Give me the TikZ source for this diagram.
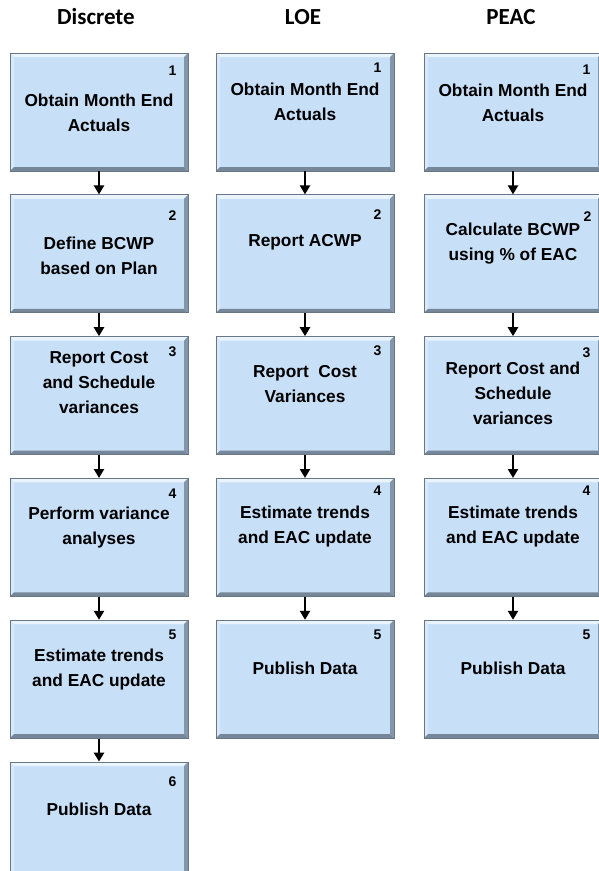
\documentclass[tikz,border=0pt]{standalone}
\usepackage{fontspec}
\setmainfont{Liberation Sans}
\newfontfamily\headfont{Carlito}
\usetikzlibrary{arrows.meta,positioning}

\definecolor{boxfill}{RGB}{199,224,248}
\definecolor{boxedge}{RGB}{104,118,134}
\definecolor{bevtop}{RGB}{234,244,253}
\definecolor{bevleft}{RGB}{216,233,250}
\definecolor{bevright}{RGB}{132,150,170}
\definecolor{bevbottom}{RGB}{118,135,154}

\begin{document}
\begin{tikzpicture}[
    x=1pt, y=-1pt,
    node distance=23pt,
    head/.style={font=\headfont\bfseries\fontsize{23}{26}\selectfont, inner sep=0pt},
    stepbox/.style={
      rectangle, draw=boxedge, line width=0.8pt, fill=boxfill,
      minimum width=178pt, minimum height=118pt, inner sep=0pt,
      path picture={
        \fill[bevtop] (path picture bounding box.north west) -- (path picture bounding box.north east)
          -- ([shift={(-4pt,-4pt)}]path picture bounding box.north east)
          -- ([shift={(4pt,-4pt)}]path picture bounding box.north west) -- cycle;
        \fill[bevleft] (path picture bounding box.north west) -- (path picture bounding box.south west)
          -- ([shift={(4pt,4pt)}]path picture bounding box.south west)
          -- ([shift={(4pt,-4pt)}]path picture bounding box.north west) -- cycle;
        \fill[bevright] (path picture bounding box.north east) -- (path picture bounding box.south east)
          -- ([shift={(-4pt,4pt)}]path picture bounding box.south east)
          -- ([shift={(-4pt,-4pt)}]path picture bounding box.north east) -- cycle;
        \fill[bevbottom] (path picture bounding box.south west) -- (path picture bounding box.south east)
          -- ([shift={(-4pt,4pt)}]path picture bounding box.south east)
          -- ([shift={(4pt,4pt)}]path picture bounding box.south west) -- cycle;
      }
    },
    steptext/.style={align=center, inner sep=0pt, text=black,
      font=\bfseries\fontsize{17.3}{25}\selectfont},
    stepnum/.style={inner sep=0pt, text=black, font=\bfseries\fontsize{14}{14}\selectfont},
    flow/.style={-{Triangle[width=10pt,length=9pt]}, line width=2.6pt, draw=black}
  ]
    \useasboundingbox (0,0) rectangle (598,871);

    % column headings
    \node[head] (hdisc) at (96,17) {Discrete};
    \node[head] (hloe) at (303,17) {LOE};
    \node[head] (hpeac) at (511,17) {PEAC};

    % Discrete
    \node[stepbox] (d1) at (99,112) {};
    \node[stepbox, below=of d1] (d2) {};
    \node[stepbox, below=of d2] (d3) {};
    \node[stepbox, below=of d3] (d4) {};
    \node[stepbox, below=of d4] (d5) {};
    \node[stepbox, below=of d5] (d6) {};
    \node[steptext, below=41pt of d1.north] (d1t) {Obtain Month End\\Actuals};
    \node[steptext, below=42pt of d2.north] (d2t) {Define BCWP\\based on Plan};
    \node[steptext, below=15pt of d3.north] (d3t) {Report Cost\\and Schedule\\variances};
    \node[steptext, below=29pt of d4.north] (d4t) {Perform variance\\analyses};
    \node[steptext, below=29pt of d5.north] (d5t) {Estimate trends\\and EAC update};
    \node[steptext, below=41pt of d6.north] (d6t) {Publish Data};
    \node[stepnum] (d1n) at ([shift={(-16pt,-18pt)}]d1.north east) {1};
    \node[stepnum] (d2n) at ([shift={(-16pt,-21pt)}]d2.north east) {2};
    \node[stepnum] (d3n) at ([shift={(-16pt,-15pt)}]d3.north east) {3};
    \node[stepnum] (d4n) at ([shift={(-16pt,-16pt)}]d4.north east) {4};
    \node[stepnum] (d5n) at ([shift={(-16pt,-15pt)}]d5.north east) {5};
    \node[stepnum] (d6n) at ([shift={(-16pt,-20pt)}]d6.north east) {6};

    % LOE
    \node[stepbox] (l1) at (305,112) {};
    \node[stepbox, below=of l1] (l2) {};
    \node[stepbox, below=of l2] (l3) {};
    \node[stepbox, below=of l3] (l4) {};
    \node[stepbox, below=of l4] (l5) {};
    \node[steptext, below=30pt of l1.north] (l1t) {Obtain Month End\\Actuals};
    \node[steptext, below=40pt of l2.north] (l2t) {Report ACWP};
    \node[steptext, below=29pt of l3.north] (l3t) {Report\ \ Cost\\Variances};
    \node[steptext, below=28pt of l4.north] (l4t) {Estimate trends\\and EAC update};
    \node[steptext, below=42pt of l5.north] (l5t) {Publish Data};
    \node[stepnum] (l1n) at ([shift={(-17pt,-15pt)}]l1.north east) {1};
    \node[stepnum] (l2n) at ([shift={(-17pt,-20pt)}]l2.north east) {2};
    \node[stepnum] (l3n) at ([shift={(-17pt,-14pt)}]l3.north east) {3};
    \node[stepnum] (l4n) at ([shift={(-17pt,-13pt)}]l4.north east) {4};
    \node[stepnum] (l5n) at ([shift={(-17pt,-15pt)}]l5.north east) {5};

    % PEAC
    \node[stepbox] (p1) at (513,112) {};
    \node[stepbox, below=of p1] (p2) {};
    \node[stepbox, below=of p2] (p3) {};
    \node[stepbox, below=of p3] (p4) {};
    \node[stepbox, below=of p4] (p5) {};
    \node[steptext, below=31pt of p1.north] (p1t) {Obtain Month End\\Actuals};
    \node[steptext, below=28pt of p2.north] (p2t) {Calculate BCWP\\using \% of EAC};
    \node[steptext, below=26pt of p3.north] (p3t) {Report Cost and\\Schedule\\variances};
    \node[steptext, below=28pt of p4.north] (p4t) {Estimate trends\\and EAC update};
    \node[steptext, below=42pt of p5.north] (p5t) {Publish Data};
    \node[stepnum] (p1n) at ([shift={(-16pt,-17pt)}]p1.north east) {1};
    \node[stepnum] (p2n) at ([shift={(-15pt,-22pt)}]p2.north east) {2};
    \node[stepnum] (p3n) at ([shift={(-16pt,-16pt)}]p3.north east) {3};
    \node[stepnum] (p4n) at ([shift={(-16pt,-13pt)}]p4.north east) {4};
    \node[stepnum] (p5n) at ([shift={(-16pt,-15pt)}]p5.north east) {5};

    \draw[flow] (d1) -- (d2);
    \draw[flow] (d2) -- (d3);
    \draw[flow] (d3) -- (d4);
    \draw[flow] (d4) -- (d5);
    \draw[flow] (d5) -- (d6);
    \draw[flow] (l1) -- (l2);
    \draw[flow] (l2) -- (l3);
    \draw[flow] (l3) -- (l4);
    \draw[flow] (l4) -- (l5);
    \draw[flow] (p1) -- (p2);
    \draw[flow] (p2) -- (p3);
    \draw[flow] (p3) -- (p4);
    \draw[flow] (p4) -- (p5);
  \end{tikzpicture}
\end{document}
